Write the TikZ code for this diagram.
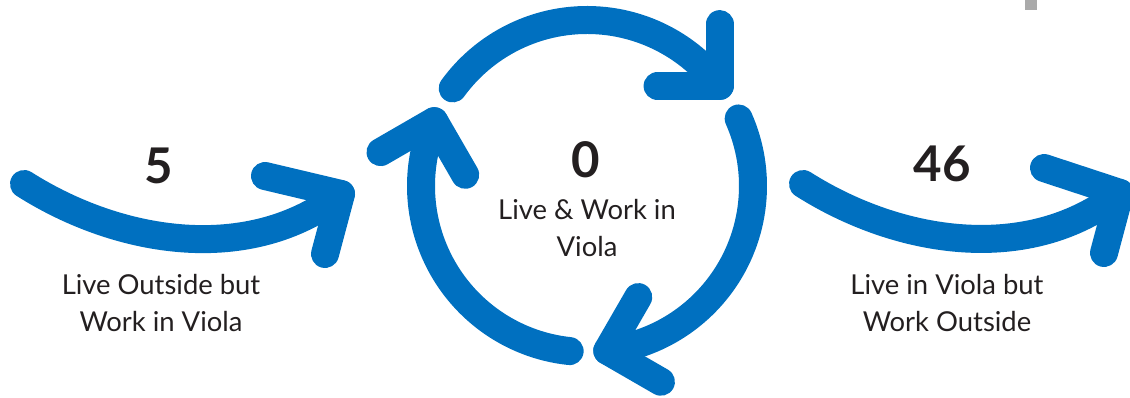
\documentclass[tikz,border=0pt]{standalone}
\usepackage{fontspec}
\setmainfont{Lato}
\usetikzlibrary{positioning}
\definecolor{flowblue}{RGB}{0,112,192}
\definecolor{inktext}{RGB}{35,31,32}
\definecolor{markgray}{RGB}{170,170,170}

\begin{document}
\begin{tikzpicture}[x=0.02cm,y=0.02cm,
    flow/.style={draw=flowblue,line width=0.56cm,line cap=round,line join=round},
    count/.style={font=\fontsize{28}{30}\selectfont\bfseries,text=inktext},
    caption/.style={font=\fontsize{15.6}{21}\selectfont,text=inktext,align=center}]
    \useasboundingbox (0,0) rectangle (1130,398);
    \clip (0,0) rectangle (1130,398);

    % small gray mark, top right
    \fill[markgray] (1025,388) rectangle (1037,398);

    % Inflow arrow (left)
    \coordinate (inStart) at (24,214);
    \coordinate (inTip) at (341,204);
    \draw[flow] (inStart) .. controls (120,153) and (250,133) .. (inTip);
    \draw[flow] (265,222) -- (inTip) -- (325,144);
    \node[count] (inCount) at (159,232) {5};
    \node[caption] (inLabel) at (161,95) {Live Outside but\\Work in Viola};

    % Cycle (center)
    \coordinate (hub) at (587,212);
    \foreach \a [evaluate=\a as \e using \a-107] in {144,24,-96} {
        \draw[flow] (hub) ++(\a:166) arc[start angle=\a, end angle=\e, radius=166];
        \draw[flow] (hub) ++(\e:166) ++(\e+53:62) -- ++(\e+233:62) -- ++(\e+143:62);
    }
    \node[count] (hubCount) at (586,238) {0};
    \node[caption] (hubLabel) at (587,170) {Live \& Work in\\Viola};

    % Outflow arrow (right)
    \coordinate (outStart) at (803,214);
    \coordinate (outTip) at (1120,205);
    \draw[flow] (outStart) .. controls (899,153) and (1029,133) .. (outTip);
    \draw[flow] (1044,230) -- (outTip) -- (1104,145);
    \node[count] (outCount) at (942,234) {46};
    \node[caption] (outLabel) at (947,95) {Live in Viola but\\Work Outside};
\end{tikzpicture}
\end{document}
